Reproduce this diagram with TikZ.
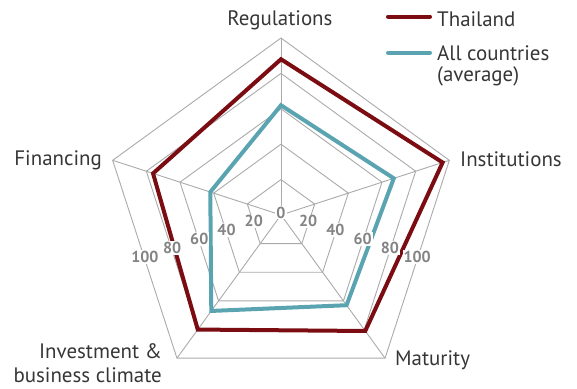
\documentclass[tikz,border=0pt]{standalone}
\usepackage{fontspec}
\setmainfont{PT Sans}
\definecolor{thaired}{HTML}{7A0C12}
\definecolor{avgteal}{HTML}{5AA3B0}
\definecolor{gridgray}{HTML}{AAAAAA}
\definecolor{labelgray}{HTML}{363636}
\definecolor{tickgray}{HTML}{838383}
\tikzset{
  gridline/.style={gridgray, line width=0.9bp},
  series/.style={line width=4bp},
  axislabel/.style={font=\fontsize{21}{23.5}\selectfont, text=labelgray, inner sep=0pt},
  ticklabel/.style={font=\fontsize{16}{18}\selectfont\bfseries, text=tickgray,
    fill=white, inner sep=1bp, yshift=2.5bp},
}

\begin{document}
\begin{tikzpicture}[x=1.77bp, y=1.77bp]
\useasboundingbox (-281bp,-174bp) rectangle (296bp,215bp);
% grid
\foreach \r in {20,40,60,80,100}
  \draw[gridline] (90:\r) -- (18:\r) -- (-54:\r) -- (-126:\r) -- (162:\r) -- cycle;
\foreach \a in {90,18,-54,-126,162}
  \draw[gridline] (0,0) -- (\a:100);
% series
\draw[series, avgteal] (90:62) -- (18:67) -- (-54:63) -- (-126:67) -- (162:42) -- cycle;
\draw[series, thaired] (90:88) -- (18:96) -- (-54:81) -- (-126:80) -- (162:76) -- cycle;
% tick labels
\node[ticklabel] (t0) at (0,0) {0};
\foreach \v in {20,40,60,80,100} {
  \node[ticklabel] (tl\v) at (198:{0.809*\v}) {\v};
  \node[ticklabel] (tr\v) at (-18:{0.809*\v}) {\v};
}
% axis labels
\node[axislabel, anchor=base] (reg) at (-1bp,189bp) {Regulations};
\node[axislabel, anchor=base west] (inst) at (179bp,48.5bp) {Institutions};
\node[axislabel, anchor=base west] (mat) at (114bp,-150bp) {Maturity};
\node[axislabel, anchor=base east, align=right] (inv) at (-119bp,-167bp) {Investment \&\\business climate};
\node[axislabel, anchor=base east] (fin) at (-179bp,49bp) {Financing};
% legend
\draw[series, thaired, line cap=round] (107bp,198.3bp) -- (149bp,198.3bp);
\node[axislabel, anchor=base west] (legthai) at (156bp,188.3bp) {Thailand};
\draw[series, avgteal, line cap=round] (107bp,162.3bp) -- (149bp,162.3bp);
\node[axislabel, anchor=base west, align=left, font=\fontsize{21}{21}\selectfont]
  (legavg) at (156bp,133.5bp) {All countries\\(average)};
\end{tikzpicture}
\end{document}
